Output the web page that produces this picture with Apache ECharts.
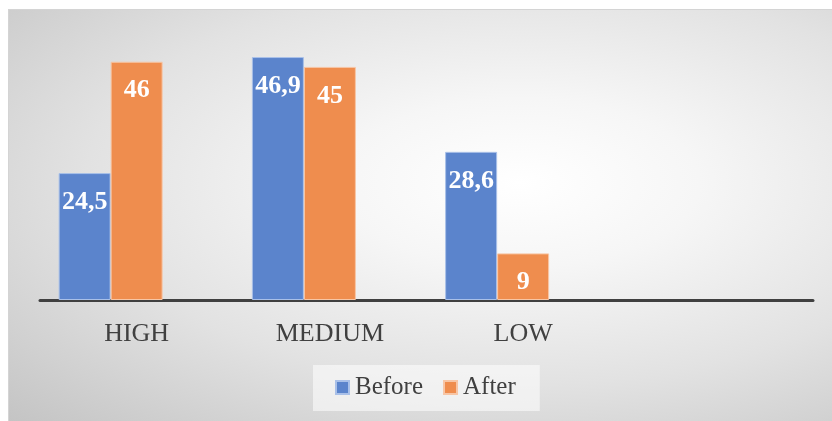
<!DOCTYPE html>
<html>
<head>
<meta charset="utf-8">
<script src="https://cdn.jsdelivr.net/npm/echarts@6/dist/echarts.min.js"></script>
<style>
html,body{margin:0;padding:0;background:#fff;}
#bg{position:absolute;left:8px;top:9px;width:824px;height:412px;
 background:radial-gradient(ellipse farthest-corner at 62% 42%, #ffffff 0%, #f6f6f6 25%, #e2e2e2 60%, #c4c4c4 100%);
 border-top:1px solid #d4d4d4;border-left:1px solid #d4d4d4;box-sizing:border-box;}
#chart{position:absolute;left:0;top:0;width:832px;height:421px;}
</style>
</head>
<body>
<div id="bg"></div>
<div id="chart"></div>
<script>
const categories = ['HIGH', 'MEDIUM', 'LOW', ''];
const beforeValues = [24.5, 46.9, 28.6, null];
const afterValues = [46, 45, 9, null];
const emptyValues = [null, null, null, null];
const seriesNames = ['Before', 'After'];

const chart = echarts.init(document.getElementById('chart'), null, {renderer: 'canvas'});
const serif = '"Liberation Serif", "Times New Roman", serif';
const fmt = p => String(p.value).replace('.', ',');
const labelCfg = {
  show: true, position: 'insideTop', distance: 16,
  color: '#ffffff', fontFamily: serif, fontWeight: 'bold', fontSize: 26,
  formatter: fmt
};
chart.setOption({
  backgroundColor: 'transparent',
  animation: false,
  grid: {left: 40, right: 19, top: 41, bottom: 121},
  xAxis: {
    type: 'category', data: categories,
    axisLine: {lineStyle: {color: '#404040', width: 3}},
    axisTick: {show: false},
    axisLabel: {color: '#404040', fontFamily: serif, fontSize: 26, margin: 21}
  },
  yAxis: {type: 'value', min: 0, max: 50, show: false, splitLine: {show: false}},
  legend: {
    data: seriesNames, left: 313, top: 365,
    padding: [10, 24, 11, 22],
    backgroundColor: 'rgba(255,255,255,0.55)',
    itemWidth: 13, itemHeight: 13, itemGap: 20, icon: 'rect',
    textStyle: {color: '#404040', fontFamily: serif, fontSize: 25, padding: [0,0,0,1]}
  },
  series: [
    {name: seriesNames[0], type: 'bar', data: beforeValues, barWidth: 52, barGap: '0%',
     itemStyle: {color: '#5b84cc', borderColor: '#a9c0e8', borderWidth: 1}, label: labelCfg},
    {name: seriesNames[1], type: 'bar', data: afterValues, barWidth: 52, barGap: '0%',
     itemStyle: {color: '#ef8d4e', borderColor: '#f7c6a6', borderWidth: 1}, label: labelCfg},
    {name: 'empty', type: 'bar', data: emptyValues, barWidth: 52, barGap: '0%',
     itemStyle: {color: 'transparent'}}
  ]
});
</script>
</body>
</html>
